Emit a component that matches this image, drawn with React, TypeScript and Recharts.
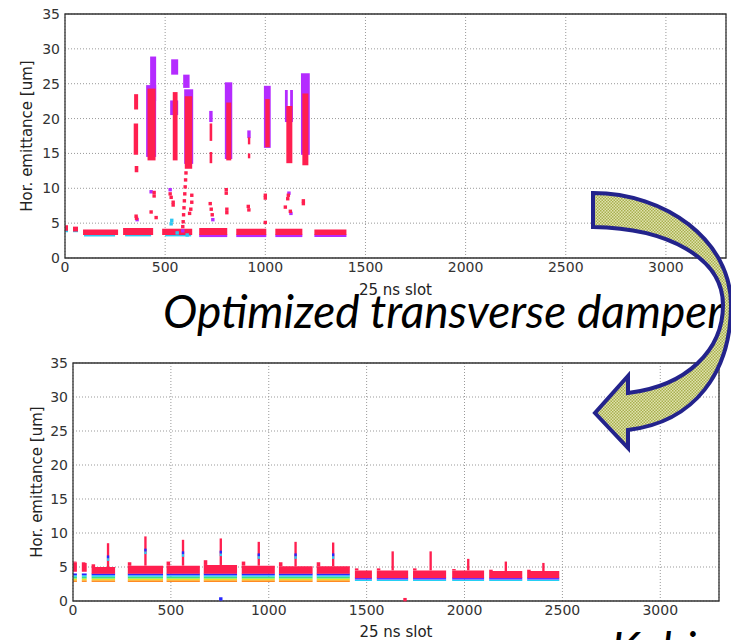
import React from 'react';
import { ScatterChart, Scatter, XAxis, YAxis, CartesianGrid, ReferenceArea } from 'recharts';

const xTicks = [0, 500, 1000, 1500, 2000, 2500, 3000];
const yTicks = [0, 5, 10, 15, 20, 25, 30, 35];

// ---- top plot: before the damper optimisation ----
// bunch trains [first slot, last slot, low emittance, high emittance]
const topTrains = [
  [0, 15, 3.9, 4.7],
  [40, 65, 3.8, 4.5],
  [90, 265, 3.3, 4.1],
  [290, 440, 3.3, 4.3],
  [485, 635, 3.3, 4.2],
  [670, 810, 3.3, 4.3],
  [855, 1005, 3.3, 4.2],
  [1050, 1185, 3.3, 4.2],
  [1245, 1405, 3.3, 4.1],
];
const topCyanUnder = [
  [0, 15, 3.7, 4.1],
  [40, 65, 3.7, 4.0],
  [95, 250, 3.1, 3.5],
  [300, 430, 3.1, 3.5],
  [500, 630, 3.1, 3.5],
];
const topPurpleUnder = [
  [670, 810, 3.0, 3.4],
  [855, 1005, 3.0, 3.4],
  [1050, 1185, 3.0, 3.4],
  [1245, 1405, 3.0, 3.4],
];
// blown-up bunches [x1, x2, low, high]
const topPurpleStreaks = [
  [425, 455, 22.5, 28.9],
  [405, 455, 14.5, 24.8],
  [530, 565, 26.3, 28.5],
  [525, 565, 20.5, 22.6],
  [590, 622, 24.4, 26.3],
  [595, 640, 13.5, 24.2],
  [720, 737, 19.5, 21.1],
  [798, 835, 14.2, 25.2],
  [910, 927, 17.2, 18.3],
  [993, 1027, 15.8, 24.7],
  [1098, 1112, 19.5, 24.1],
  [1124, 1138, 19.5, 24.1],
  [1178, 1222, 14.8, 26.5],
];
const topRedStreaks = [
  [345, 365, 21.3, 23.5],
  [343, 365, 14.8, 19.3],
  [348, 366, 12.3, 13.2],
  [412, 452, 14.0, 24.3],
  [538, 562, 14.0, 23.8],
  [598, 635, 12.8, 23.2],
  [722, 735, 16.8, 19.3],
  [722, 735, 13.6, 15.2],
  [805, 830, 14.0, 22.3],
  [913, 925, 16.3, 17.3],
  [913, 925, 14.3, 15.0],
  [1000, 1022, 15.9, 22.8],
  [1105, 1135, 13.6, 21.8],
  [1185, 1215, 13.3, 23.6],
];
const topRedDots = [
  { x: 355, y: 6.0 }, { x: 357, y: 5.7 }, { x: 430, y: 6.6 }, { x: 445, y: 9.4 },
  { x: 445, y: 8.9 }, { x: 455, y: 5.8 }, { x: 525, y: 9.2 }, { x: 530, y: 8.7 },
  { x: 540, y: 8.0 }, { x: 540, y: 7.6 }, { x: 604, y: 12.2 }, { x: 602, y: 11.2 },
  { x: 600, y: 10.2 }, { x: 598, y: 9.2 }, { x: 596, y: 8.2 }, { x: 594, y: 7.2 },
  { x: 592, y: 6.2 }, { x: 590, y: 5.2 }, { x: 588, y: 4.5 }, { x: 633, y: 9.0 },
  { x: 633, y: 8.0 }, { x: 628, y: 7.0 }, { x: 622, y: 6.4 }, { x: 725, y: 7.8 },
  { x: 730, y: 7.0 }, { x: 735, y: 6.2 }, { x: 805, y: 9.8 }, { x: 805, y: 9.3 },
  { x: 808, y: 7.0 }, { x: 808, y: 6.5 }, { x: 915, y: 7.4 }, { x: 918, y: 6.9 },
  { x: 1000, y: 9.0 }, { x: 1000, y: 8.6 }, { x: 1000, y: 5.1 }, { x: 1115, y: 9.0 },
  { x: 1112, y: 8.5 }, { x: 1100, y: 7.3 }, { x: 1125, y: 6.7 }, { x: 1190, y: 8.2 },
  { x: 1190, y: 7.8 },
];
const topPurpleDots = [
  { x: 360, y: 5.5 }, { x: 430, y: 9.5 }, { x: 525, y: 9.8 }, { x: 588, y: 3.9 },
  { x: 738, y: 5.5 }, { x: 1118, y: 9.3 }, { x: 1128, y: 6.4 },
];
const topCyanDots = [
  { x: 533, y: 5.4 }, { x: 530, y: 4.9 }, { x: 560, y: 3.6 }, { x: 610, y: 3.3 },
];

// ---- bottom plot: with the optimised damper ----
const bottomTrains = [
  [0, 20, 4.3, 5.7],
  [45, 70, 4.3, 5.6],
  [95, 215, 4.0, 5.0],
  [280, 460, 4.0, 5.2],
  [478, 648, 4.0, 5.2],
  [668, 838, 4.0, 5.3],
  [862, 1031, 4.0, 5.2],
  [1052, 1224, 4.0, 5.1],
  [1245, 1414, 4.0, 5.1],
  [1440, 1527, 3.4, 4.5],
  [1552, 1712, 3.4, 4.5],
  [1737, 1906, 3.4, 4.5],
  [1937, 2100, 3.4, 4.5],
  [2126, 2295, 3.4, 4.4],
  [2320, 2484, 3.4, 4.4],
];
const bottomFrontTop = [5.8, 5.7, 5.4, 5.7, 5.8, 6.0, 5.8, 5.7, 5.7, 4.8, 4.8, 4.8, 4.7, 4.6, 4.6];
// emittance layers below the red band for the first nine trains (orange -> blue)
const earlyLayerLo = [2.8, 3.05, 3.3, 3.55, 3.8];
const earlyLayerHi = [3.05, 3.3, 3.55, 3.8, 4.05];
// last six trains (cyan -> violet)
const lateLayerLo = [2.95, 3.15];
const lateLayerHi = [3.15, 3.45];
const earlyTrainCount = 9;
const spikeSlot = [179, 370, 562, 755, 949, 1137, 1329, 1633, 1827, 2019, 2211, 2403];
const spikeTop = [8.5, 9.5, 9.0, 9.2, 8.7, 8.7, 8.6, 7.3, 7.3, 6.2, 5.8, 5.6];
const spikeBlue = [6.7, 7.7, 7.3, 7.4, 7.0, 7.0, 7.0];
const bottomBlueDots = [{ x: 755, y: 0.3 }];
const bottomRedDots = [{ x: 1696, y: 0.2 }];

const RED = '#ff1f4f';
const PURPLE = '#b42bff';
const CYAN = '#2ec7f2';
const layerColors = ['#ff8a22', '#ede31e', '#3fe37a', '#24cff5', '#2828ff'];
const lateColors = ['#24cff5', '#6a30ff'];

const tickStyle = { fontSize: 14, fill: '#333', fontFamily: 'DejaVu Sans' };
const labelFont = { fontSize: 15, fill: '#222', fontFamily: 'DejaVu Sans' };

const Sq = (p: any) => (
  <rect x={p.cx - 1.7} y={p.cy - 1.7} width={3.4} height={3.4} fill={p.fill} />
);

const area = (s: number[], fill: string, key: string) => (
  <ReferenceArea key={key} x1={s[0]} x2={s[1]} y1={s[2]} y2={s[3]} fill={fill} fillOpacity={1} stroke="none" />
);

const yLabel = (cx: number) => (props: any) => {
  const vb = props.viewBox || { y: 0, height: 0 };
  const cy = vb.y + vb.height / 2;
  return (
    <text x={cx} y={cy} transform={`rotate(-90 ${cx} ${cy})`} textAnchor="middle" dominantBaseline="central" {...labelFont}>
      Hor. emittance [um]
    </text>
  );
};

const xLabel = (dy: number) => (props: any) => {
  const vb = props.viewBox || { x: 0, y: 0, width: 0 };
  return (
    <text x={vb.x + vb.width / 2} y={vb.y + dy} textAnchor="middle" {...labelFont}>
      25 ns slot
    </text>
  );
};

export default function App() {
  const bottomAreas: React.ReactNode[] = [];
  bottomTrains.forEach((t, i) => {
    if (i < earlyTrainCount) {
      earlyLayerLo.forEach((lo, j) =>
        bottomAreas.push(area([t[0], t[1], lo, earlyLayerHi[j]], layerColors[j], `l${i}-${j}`))
      );
    } else {
      lateLayerLo.forEach((lo, j) =>
        bottomAreas.push(area([t[0], t[1], lo, lateLayerHi[j]], lateColors[j], `l${i}-${j}`))
      );
    }
    bottomAreas.push(area(t, RED, `r${i}`));
    bottomAreas.push(area([t[0], t[0] + 18, t[3], bottomFrontTop[i]], RED, `f${i}`));
  });
  spikeSlot.forEach((x, i) => {
    const base = bottomTrains.find((t) => t[0] <= x && t[1] >= x)![3];
    bottomAreas.push(area([x - 6, x + 6, base, spikeTop[i]], RED, `s${i}`));
    if (i < spikeBlue.length) {
      bottomAreas.push(area([x - 6, x + 6, spikeBlue[i] - 0.8, spikeBlue[i] - 0.4], CYAN, `sc${i}`));
      bottomAreas.push(area([x - 6, x + 6, spikeBlue[i] - 0.4, spikeBlue[i]], '#2828ff', `sb${i}`));
    }
  });

  return (
    <div style={{ position: 'absolute', left: 0, top: 0, width: 731, height: 640, background: '#fff', overflow: 'hidden' }}>
      <div style={{ position: 'absolute', left: 0, top: 0 }}>
        <ScatterChart width={731} height={300} margin={{ top: 14, right: 5, bottom: 14, left: 0 }}>
          <CartesianGrid stroke="#999" strokeDasharray="1 2" />
          <XAxis type="number" dataKey="x" domain={[0, 3300]} ticks={xTicks} tickSize={0} tickMargin={4}
            axisLine={false} tick={tickStyle} height={28} allowDataOverflow label={{ content: xLabel(37) }} />
          <YAxis type="number" dataKey="y" domain={[0, 35]} ticks={yTicks} tickSize={0} tickMargin={5}
            axisLine={false} tick={tickStyle} width={65} label={{ content: yLabel(27) }} />
          {topCyanUnder.map((s, i) => area(s, CYAN, `cu${i}`))}
          {topPurpleUnder.map((s, i) => area(s, PURPLE, `pu${i}`))}
          {topTrains.map((s, i) => area(s, RED, `t${i}`))}
          {topPurpleStreaks.map((s, i) => area(s, PURPLE, `ps${i}`))}
          {topRedStreaks.map((s, i) => area(s, RED, `rs${i}`))}
          <Scatter data={topPurpleDots} fill={PURPLE} shape={Sq} isAnimationActive={false} />
          <Scatter data={topCyanDots} fill={CYAN} shape={Sq} isAnimationActive={false} />
          <Scatter data={topRedDots} fill={RED} shape={Sq} isAnimationActive={false} />
          <ReferenceArea x1={0} x2={3300} y1={0} y2={35} fill="none" stroke="#333" strokeWidth={1.3} />
        </ScatterChart>
      </div>
      <div style={{ position: 'absolute', left: 0, top: 340 }}>
        <ScatterChart width={731} height={300} margin={{ top: 23, right: 12, bottom: 11, left: 0 }}>
          <CartesianGrid stroke="#999" strokeDasharray="1 2" />
          <XAxis type="number" dataKey="x" domain={[0, 3300]} ticks={xTicks} tickSize={0} tickMargin={4}
            axisLine={false} tick={tickStyle} height={28} allowDataOverflow label={{ content: xLabel(36) }} />
          <YAxis type="number" dataKey="y" domain={[0, 35]} ticks={yTicks} tickSize={0} tickMargin={5}
            axisLine={false} tick={tickStyle} width={73} label={{ content: yLabel(37) }} />
          {bottomAreas}
          <Scatter data={bottomBlueDots} fill="#2828ff" shape={Sq} isAnimationActive={false} />
          <Scatter data={bottomRedDots} fill={RED} shape={Sq} isAnimationActive={false} />
          <ReferenceArea x1={0} x2={3300} y1={0} y2={35} fill="none" stroke="#333" strokeWidth={1.3} />
        </ScatterChart>
      </div>
      <svg width={731} height={640} style={{ position: 'absolute', left: 0, top: 0, pointerEvents: 'none' }}>
        <defs>
          <pattern id="hatch" width="3" height="3" patternUnits="userSpaceOnUse">
            <rect width="3" height="3" fill="#e0e3ae" />
            <rect width="1.5" height="1.5" fill="#a8af4e" />
            <rect x="1.5" y="1.5" width="1.5" height="1.5" fill="#a8af4e" />
          </pattern>
        </defs>
        <text x={163} y={328} fontSize={46} fontStyle="italic" fontFamily="Lato, 'Open Sans', sans-serif"
          fill="#000" textLength={560} lengthAdjust="spacingAndGlyphs">
          Optimized transverse damper
        </text>
        <text x={611} y={665} fontSize={46} fontStyle="italic" fontFamily="Lato, 'Open Sans', sans-serif" fill="#000">
          Kobi
        </text>
        <path
          d="M593,193 C665,193 731,240 731,305 C731,372 695,422 628,430 L628,448 L595,413 L628,376 L628,393 C687,386 723,350 723,305 C723,258 668,228 593,227 Z"
          fill="url(#hatch)" stroke="#23238c" strokeWidth={4} strokeLinejoin="miter"
        />
      </svg>
    </div>
  );
}
